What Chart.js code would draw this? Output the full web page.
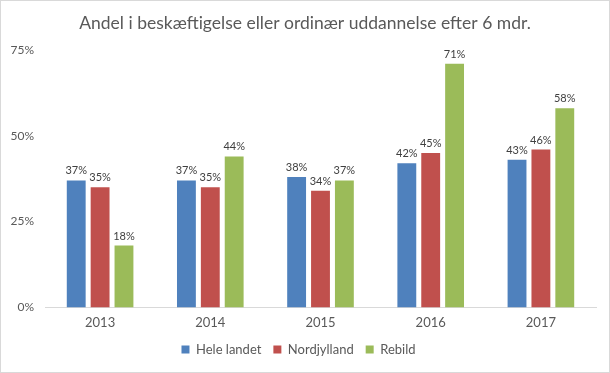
<!DOCTYPE html>
<html>
<head>
<meta charset="utf-8">
<script src="https://cdn.jsdelivr.net/npm/chart.js@4.4.0/dist/chart.umd.min.js"></script>
<style>
  html, body { margin: 0; padding: 0; background: #fff; }
  #wrap { position: relative; width: 608px; height: 371px; border: 1px solid #d9d9d9; }
</style>
</head>
<body>
<div id="wrap"><canvas id="chart" width="608" height="371"></canvas></div>
<script>
const years = ['2013', '2014', '2015', '2016', '2017'];
const heleLandet = [37, 37, 38, 42, 43];
const nordjylland = [35, 35, 34, 45, 46];
const rebild = [18, 44, 37, 71, 58];
const yTicks = [0, 25, 50, 75];
const titleText = 'Andel i beskæftigelse eller ordinær uddannelse efter 6 mdr.';

const textColor = '#595959';
const fontFamily = 'Lato, "Open Sans", sans-serif';

// title drawn by hand, centred on the whole picture
const titleDraw = {
  id: 'titleDraw',
  afterDraw(chart) {
    const ctx = chart.ctx;
    ctx.save();
    ctx.font = '17.5px ' + fontFamily;
    ctx.fillStyle = textColor;
    ctx.textAlign = 'center';
    ctx.textBaseline = 'alphabetic';
    ctx.fillText(titleText, chart.width / 2, 28);
    ctx.restore();
  }
};

// simple value labels above each bar
const barLabels = {
  id: 'barLabels',
  afterDatasetsDraw(chart) {
    const ctx = chart.ctx;
    ctx.save();
    ctx.font = '11px ' + fontFamily;
    ctx.fillStyle = '#404040';
    ctx.textAlign = 'center';
    ctx.textBaseline = 'bottom';
    chart.data.datasets.forEach((ds, i) => {
      chart.getDatasetMeta(i).data.forEach((bar, j) => {
        ctx.fillText(ds.data[j] + '%', bar.x, bar.y - 4);
      });
    });
    ctx.restore();
  }
};

new Chart(document.getElementById('chart').getContext('2d'), {
  type: 'bar',
  data: {
    labels: years,
    datasets: [
      { label: 'Hele landet', data: heleLandet, backgroundColor: '#4f81bd' },
      { label: 'Nordjylland', data: nordjylland, backgroundColor: '#c0504d' },
      { label: 'Rebild', data: rebild, backgroundColor: '#9bbb59' }
    ]
  },
  options: {
    responsive: false,
    animation: false,
    categoryPercentage: 0.65,
    barPercentage: 0.79,
    layout: { padding: { left: 0, right: 13, top: 49, bottom: 6 } },
    plugins: {
      title: { display: false },
      legend: {
        position: 'bottom',
        labels: {
          color: textColor,
          font: { family: fontFamily, size: 13 },
          boxWidth: 8,
          boxHeight: 8,
          padding: 12
        }
      },
      tooltip: { enabled: false }
    },
    scales: {
      x: {
        grid: { display: false },
        border: { color: '#d9d9d9' },
        ticks: { color: textColor, padding: 0, font: { family: fontFamily, size: 13 } }
      },
      y: {
        min: 0,
        max: 75,
        afterBuildTicks(axis) { axis.ticks = yTicks.map(v => ({ value: v })); },
        afterFit(axis) { axis.width = 44; },
        grid: { display: false },
        border: { display: false },
        ticks: {
          color: textColor,
          font: { family: fontFamily, size: 12 },
          callback: v => v + '%'
        }
      }
    }
  },
  plugins: [barLabels, titleDraw]
});
</script>
</body>
</html>
